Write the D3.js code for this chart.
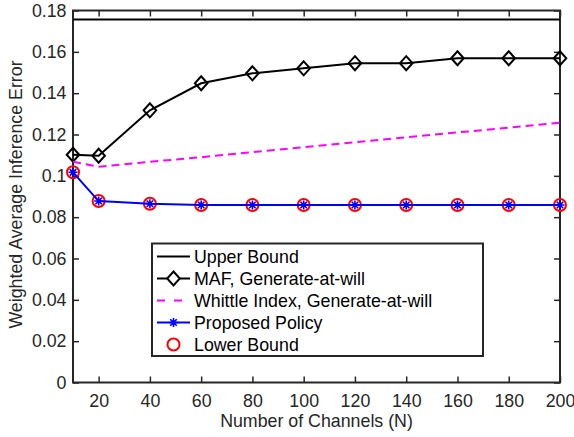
<!DOCTYPE html>
<html>
<head>
<meta charset="utf-8">
<script src="https://cdn.jsdelivr.net/npm/d3@7"></script>
<style>
  html, body { margin: 0; padding: 0; background: #fff; }
  svg { display: block; font-family: "Liberation Sans", Arial, sans-serif; }
</style>
</head>
<body>
<svg id="chart" width="574" height="437"></svg>
<script>
// Number of channels N
const channels = [10, 20, 40, 60, 80, 100, 120, 140, 160, 180, 200];

// Weighted average inference error for each policy
const upperBound = [0.1757, 0.1757, 0.1757, 0.1757, 0.1757, 0.1757, 0.1757, 0.1757, 0.1757, 0.1757, 0.1757];
const mafGAW     = [0.1102, 0.1097, 0.1317, 0.1448, 0.1496, 0.1520, 0.1545, 0.1545, 0.1569, 0.1569, 0.1569];
const whittleGAW = [0.1068, 0.1044, 0.1068, 0.1090, 0.1115, 0.1139, 0.1162, 0.1186, 0.1210, 0.1233, 0.1257];
const proposed   = [0.1017, 0.0878, 0.0865, 0.0859, 0.0859, 0.0859, 0.0859, 0.0859, 0.0859, 0.0859, 0.0859];
const lowerBound = [0.1017, 0.0878, 0.0865, 0.0859, 0.0859, 0.0859, 0.0859, 0.0859, 0.0859, 0.0859, 0.0859];

const xTicks = [20, 40, 60, 80, 100, 120, 140, 160, 180, 200];
const yTicks = [0, 0.02, 0.04, 0.06, 0.08, 0.1, 0.12, 0.14, 0.16, 0.18];

const legendLabels = ["Upper Bound", "MAF, Generate-at-will", "Whittle Index, Generate-at-will", "Proposed Policy", "Lower Bound"];

const svg = d3.select("#chart");
const L = 73, R = 560, T = 10.5, B = 382.5;
const axisColor = "#262626";
const fs = 17.8;

const x = d3.scaleLinear().domain([10, 200]).range([L, R]);
const y = d3.scaleLinear().domain([0, 0.18]).range([B, T]);

// Axes with inward ticks on all four sides
const gx = svg.append("g").attr("transform", `translate(0,${B})`)
  .call(d3.axisBottom(x).tickValues(xTicks).tickSizeInner(-6).tickSizeOuter(0).tickPadding(12));
const gxTop = svg.append("g").attr("transform", `translate(0,${T})`)
  .call(d3.axisTop(x).tickValues(xTicks).tickSizeInner(-6).tickSizeOuter(0).tickFormat(""));
const gy = svg.append("g").attr("transform", `translate(${L},0)`)
  .call(d3.axisLeft(y).tickValues(yTicks).tickSizeInner(-6).tickSizeOuter(0).tickPadding(6.5)
    .tickFormat(d => d === 0 ? "0" : String(+d.toFixed(2))));
const gyR = svg.append("g").attr("transform", `translate(${R},0)`)
  .call(d3.axisRight(y).tickValues(yTicks).tickSizeInner(-6).tickSizeOuter(0).tickFormat(""));

[gx, gxTop, gy, gyR].forEach(g => {
  g.select(".domain").remove();
  g.selectAll(".tick line").attr("stroke", axisColor).attr("stroke-width", 1.5);
  g.selectAll(".tick text").attr("fill", axisColor).style("font-size", fs + "px")
    .style("font-family", "'Liberation Sans', Arial, sans-serif");
});

// Frame
svg.append("rect").attr("x", L).attr("y", T).attr("width", R - L).attr("height", B - T)
  .attr("fill", "none").attr("stroke", axisColor).attr("stroke-width", 2);

// Axis titles
svg.append("text").attr("x", (L + R) / 2).attr("y", 427).attr("text-anchor", "middle")
  .attr("fill", axisColor).style("font-size", fs + "px").text("Number of Channels (N)");
svg.append("text").attr("transform", `translate(22,${(T + B) / 2 - 2}) rotate(-90)`)
  .attr("text-anchor", "middle").attr("fill", axisColor).style("font-size", fs + "px")
  .text("Weighted Average Inference Error");

const line = d3.line().x((d, i) => x(channels[i])).y(d => y(d));
const plot = svg.append("g");

// Upper bound
plot.append("path").datum(upperBound).attr("d", line)
  .attr("fill", "none").attr("stroke", "#000").attr("stroke-width", 2);

// MAF
plot.append("path").datum(mafGAW).attr("d", line)
  .attr("fill", "none").attr("stroke", "#000").attr("stroke-width", 2);
const diamond = (cx, cy, s) => `M${cx},${cy - s}L${cx + s * 0.9},${cy}L${cx},${cy + s}L${cx - s * 0.9},${cy}Z`;
plot.selectAll(".maf").data(mafGAW).enter().append("path")
  .attr("d", (d, i) => diamond(x(channels[i]), y(d), 7))
  .attr("fill", "none").attr("stroke", "#000").attr("stroke-width", 2);

// Whittle index
plot.append("path").datum(whittleGAW).attr("d", line)
  .attr("fill", "none").attr("stroke", "#ff00ff").attr("stroke-width", 2)
  .attr("stroke-dasharray", "8,5");

// Lower bound circles
plot.selectAll(".lb").data(lowerBound).enter().append("circle")
  .attr("cx", (d, i) => x(channels[i])).attr("cy", d => y(d)).attr("r", 6)
  .attr("fill", "none").attr("stroke", "#ff0000").attr("stroke-width", 2);

// Proposed policy
plot.append("path").datum(proposed).attr("d", line)
  .attr("fill", "none").attr("stroke", "#0000ff").attr("stroke-width", 2);
const asterisk = (cx, cy, s) => {
  let p = `M${cx - s},${cy}L${cx + s},${cy}M${cx},${cy - s}L${cx},${cy + s}`;
  const k = s * 0.72;
  p += `M${cx - k},${cy - k}L${cx + k},${cy + k}M${cx - k},${cy + k}L${cx + k},${cy - k}`;
  return p;
};
plot.selectAll(".pp").data(proposed).enter().append("path")
  .attr("d", (d, i) => asterisk(x(channels[i]), y(d), 4.5))
  .attr("fill", "none").attr("stroke", "#0000ff").attr("stroke-width", 1.6);

// Legend
const lg = svg.append("g");
lg.append("rect").attr("x", 152).attr("y", 243.5).attr("width", 331).attr("height", 112.5)
  .attr("fill", "#fff").attr("stroke", axisColor).attr("stroke-width", 2);
const rowY = i => 256.5 + i * 22;
const x0 = 157, x1 = 190, xm = (x0 + x1) / 2;
legendLabels.forEach((lab, i) => {
  lg.append("text").attr("x", 194).attr("y", rowY(i)).attr("dy", "0.35em")
    .attr("fill", "#000").style("font-size", fs + "px").text(lab);
});
lg.append("line").attr("x1", x0).attr("x2", x1).attr("y1", rowY(0)).attr("y2", rowY(0))
  .attr("stroke", "#000").attr("stroke-width", 2);
lg.append("line").attr("x1", x0).attr("x2", x1).attr("y1", rowY(1)).attr("y2", rowY(1))
  .attr("stroke", "#000").attr("stroke-width", 2);
lg.append("path").attr("d", diamond(xm, rowY(1), 7)).attr("fill", "#fff")
  .attr("stroke", "#000").attr("stroke-width", 2);
lg.append("line").attr("x1", x0).attr("x2", x1).attr("y1", rowY(2)).attr("y2", rowY(2))
  .attr("stroke", "#ff00ff").attr("stroke-width", 2).attr("stroke-dasharray", "8,9");
lg.append("line").attr("x1", x0).attr("x2", x1).attr("y1", rowY(3)).attr("y2", rowY(3))
  .attr("stroke", "#0000ff").attr("stroke-width", 2);
lg.append("path").attr("d", asterisk(xm, rowY(3), 4.5)).attr("fill", "none")
  .attr("stroke", "#0000ff").attr("stroke-width", 1.6);
lg.append("circle").attr("cx", xm).attr("cy", rowY(4)).attr("r", 6)
  .attr("fill", "none").attr("stroke", "#ff0000").attr("stroke-width", 2);
</script>
</body>
</html>
